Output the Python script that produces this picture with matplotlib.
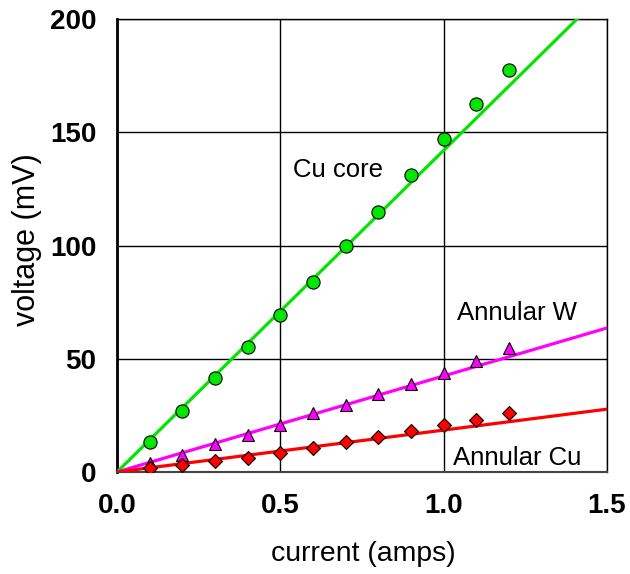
import matplotlib
matplotlib.use("Agg")
import matplotlib.pyplot as plt
import numpy as np

plt.rcParams['font.family'] = ['Liberation Sans', 'DejaVu Sans']

# measured current (amps)
current = [0.1, 0.2, 0.3, 0.4, 0.5, 0.6, 0.7, 0.8, 0.9, 1.0, 1.1, 1.2]

# measured voltages (mV)
cu_core = [13.2, 27, 41.5, 55, 69.5, 84, 100, 115, 131, 147, 162.5, 177.5]
annular_w = [4.0, 7.5, 12.4, 16.3, 20.8, 26, 29.6, 34.4, 38.9, 43.7, 49, 54.7]
annular_cu = [1.8, 3.1, 4.9, 6.2, 8.4, 10.6, 13.2, 15.5, 18.1, 20.8, 23, 26]

# slopes of the fitted lines (mV/amp)
slope_core = 142.0
slope_w = 42.4
slope_cu = 18.5

fit_x = np.array([0.0, 1.5])

fig = plt.figure(figsize=(6.3, 5.74), dpi=100)
ax = fig.add_axes([117/630, 102/574, 490/630, 453/574])

ax.plot(fit_x, slope_core*fit_x, color='#00E600', lw=2.3, zorder=3)
ax.plot(fit_x, slope_w*fit_x, color='#FF00FF', lw=2.3, zorder=3)
ax.plot(fit_x, slope_cu*fit_x, color='#FF0000', lw=2.3, zorder=3)

ax.plot(current, cu_core, 'o', ms=9.5, mfc='#00E600', mec='black', mew=0.8, zorder=4)
ax.plot(current, annular_w, '^', ms=9, mfc='#FF00FF', mec='black', mew=0.8, zorder=4)
ax.plot(current, annular_cu, 'D', ms=7, mfc='#FF0000', mec='black', mew=0.8, zorder=4)

ax.text(0.539, 130.2, 'Cu core', fontsize=18.5, ha='left', va='baseline')
ax.text(1.041, 67.1, 'Annular W', fontsize=18.5, ha='left', va='baseline')
ax.text(1.028, 3.1, 'Annular Cu', fontsize=18.5, ha='left', va='baseline')

ax.set_xlim(0, 1.5)
ax.set_ylim(0, 200)
ax.set_xticks([0, 0.5, 1.0, 1.5])
ax.set_xticklabels(['0.0', '0.5', '1.0', '1.5'])
ax.set_yticks([0, 50, 100, 150, 200])
ax.grid(True, color='black', lw=1.0)
ax.set_axisbelow(True)
ax.tick_params(length=0, labelsize=20)
ax.tick_params(axis='y', pad=15)
ax.tick_params(axis='x', pad=15)
for lab in ax.get_xticklabels() + ax.get_yticklabels():
    lab.set_fontweight('bold')

for s in ['top', 'right']:
    ax.spines[s].set_linewidth(1.0)
ax.spines['left'].set_linewidth(2.0)
ax.spines['bottom'].set_linewidth(1.5)
ax.spines['bottom'].set_color('#444444')

ax.set_xlabel('current (amps)', fontsize=20.4)
ax.set_ylabel('voltage (mV)', fontsize=22)
ax.xaxis.set_label_coords(0.502, -0.152)
ax.yaxis.set_label_coords(-0.153, 0.512)

fig.savefig('out.png', dpi=100)
